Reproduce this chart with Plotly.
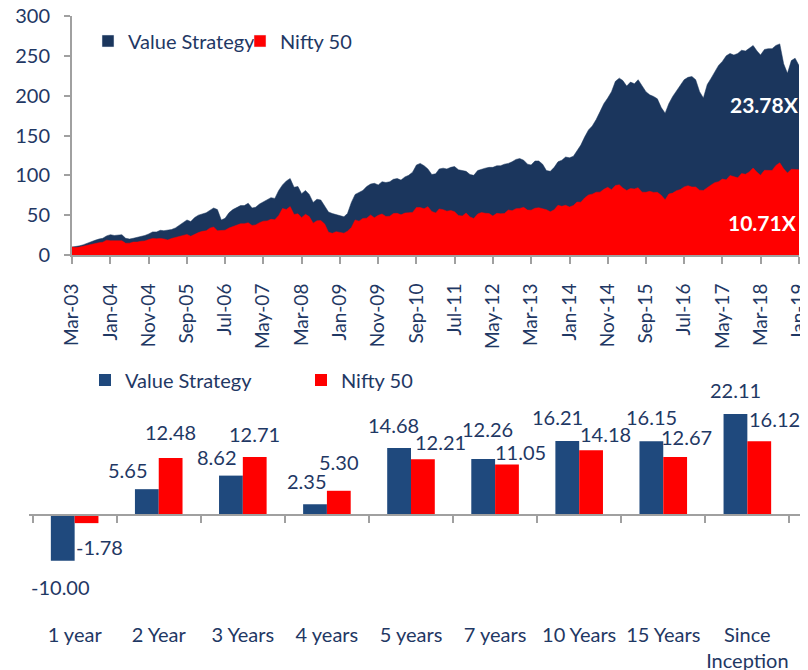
import pandas as pd
import plotly.graph_objects as go

# ---------------- data ----------------
months = pd.date_range("2003-03-01", "2019-01-01", freq="MS")

value_strategy = [
    10, 10.5, 11.5, 13, 15, 17, 18.5, 20, 21, 24,
    25.5, 24.5, 25, 25.5, 21, 20, 21, 22, 23.5, 24.5,
    26.5, 29, 29, 31, 30.5, 31, 32, 34, 37, 41,
    44, 42, 47, 50, 52, 53, 56, 59, 57, 44,
    46, 53, 57, 60, 62, 62, 65, 59, 60, 64,
    67, 70, 72, 71, 81, 88, 93, 96, 85, 86,
    77, 81, 76, 66, 70, 69, 62, 54, 52, 51,
    49, 48, 52, 66, 76, 79, 81, 86, 89, 90,
    88, 92, 91, 92, 95, 96, 94, 98, 100, 104,
    113, 115, 112, 108, 101, 102, 108, 109, 108, 110,
    111, 107, 106, 105, 101, 100, 106, 108, 109, 110,
    110, 112, 112, 114, 115, 117, 120, 121, 119, 114,
    113, 118, 118, 114, 106, 105, 110, 117, 119, 123,
    122, 124, 131, 138, 148, 157, 162, 170, 180, 190,
    197, 205, 218, 222, 219, 212, 217, 215, 220, 212,
    205, 201, 199, 196, 185, 178, 190, 199, 206, 212,
    220, 223, 224, 220, 205, 197, 214, 222, 230, 238,
    243, 250, 253, 251, 253, 257, 256, 259, 263, 256,
    251, 258, 259, 259, 263, 265, 240, 228, 244, 247,
    237.8,
]

nifty_50 = [
    10, 9.3, 10.0, 11.2, 11.7, 13.4, 14.0, 15.4, 16.0, 18.6,
    17.9, 17.8, 17.5, 17.8, 14.7, 14.9, 16.2, 16.2, 17.3, 17.7,
    19.4, 20.6, 20.4, 20.8, 20.2, 18.8, 20.7, 22.0, 22.9, 23.6,
    25.8, 23.5, 26.3, 28.1, 29.7, 30.4, 33.7, 35.2, 30.4, 31.0,
    31.1, 33.8, 35.5, 37.1, 39.2, 39.3, 40.4, 37.1, 37.8, 40.5,
    42.5, 42.8, 44.8, 44.2, 49.7, 58.4, 57.1, 60.8, 50.9, 51.7,
    46.9, 51.1, 48.2, 40.0, 42.9, 43.2, 38.8, 28.6, 27.3, 29.3,
    28.5, 27.4, 29.9, 34.4, 44.0, 42.5, 45.9, 46.2, 50.3, 46.7,
    49.8, 51.5, 48.3, 48.7, 52.0, 52.3, 50.4, 52.6, 53.1, 53.5,
    59.7, 59.6, 58.0, 60.7, 54.5, 52.8, 57.8, 56.9, 55.0, 55.9,
    54.3, 49.5, 48.9, 52.7, 47.8, 45.8, 51.5, 53.3, 52.4, 52.0,
    48.8, 52.3, 51.8, 52.1, 56.5, 55.6, 58.2, 58.5, 59.8, 56.4,
    56.3, 58.7, 59.3, 57.8, 56.9, 54.2, 56.8, 62.4, 61.1, 62.4,
    60.3, 62.1, 66.4, 66.3, 71.6, 75.4, 76.4, 78.8, 78.9, 82.4,
    85.0, 82.0, 87.2, 88.1, 84.1, 81.0, 83.5, 82.9, 84.5, 78.9,
    78.7, 79.9, 78.6, 78.7, 74.9, 69.2, 76.6, 77.7, 80.8, 82.1,
    85.5, 87.0, 85.3, 85.4, 81.4, 81.0, 84.8, 87.9, 90.8, 92.1,
    95.3, 94.3, 99.8, 98.2, 96.9, 102.3, 101.3, 104.3, 109.2, 103.9,
    100.1, 106.3, 106.3, 106.1, 112.4, 115.7, 108.2, 102.8, 107.7, 107.6,
    107.1,
]

x_tick_labels = ["Mar-03", "Jan-04", "Nov-04", "Sep-05", "Jul-06", "May-07", "Mar-08",
                 "Jan-09", "Nov-09", "Sep-10", "Jul-11", "May-12", "Mar-13", "Jan-14",
                 "Nov-14", "Sep-15", "Jul-16", "May-17", "Mar-18", "Jan-19"]
y_tick_values = [0, 50, 100, 150, 200, 250, 300]

multiple_labels = ["23.78X", "10.71X"]

periods = ["1 year", "2 Year", "3 Years", "4 years", "5 years", "7 years",
           "10 Years", "15 Years", "Since<br>Inception"]
value_returns = [-10.00, 5.65, 8.62, 2.35, 14.68, 12.26, 16.21, 16.15, 22.11]
nifty_returns = [-1.78, 12.48, 12.71, 5.30, 12.21, 11.05, 14.18, 12.67, 16.12]

# label offsets (px) : style only
value_dx = [-2, -19, -14, -8, -5, 5, -10, 0, 0]
value_dy = [26, 19, 19, 23, 23, 30, 24, 24, 24]
nifty_dx = [13, 0, 0, 0, 17, 13, 14, 11, 15]
nifty_dy = [24, 26, 23, 29, 17, 13, 16, 20, 22]

# ---------------- style ----------------
W, H = 808, 670
OFFSET = 8  # page margin around the figure in the screenshot
AREA_NAVY = "#1B365D"
BAR_NAVY = "#1F497D"
RED = "#FF0000"
TEXT = "#1F3864"
AXIS = "#A0A0A0"
FONT = "Lato"
FS = 20

def px_x(p):
    return (p - OFFSET) / W

def px_y(p):
    return 1 - (p - OFFSET) / H

fig = go.Figure()

# top: area chart (Nifty drawn on the overlay axis so it sits in front)
fig.add_trace(go.Scatter(x=months, y=value_strategy, mode="lines", fill="tozeroy",
                         line=dict(color=AREA_NAVY, width=0.5), fillcolor=AREA_NAVY,
                         name="Value Strategy", showlegend=False, xaxis="x", yaxis="y",
                         hoverinfo="skip"))
fig.add_trace(go.Scatter(x=months, y=nifty_50, mode="lines", fill="tozeroy",
                         line=dict(color=RED, width=0.5), fillcolor=RED,
                         name="Nifty 50", showlegend=False, xaxis="x", yaxis="y3",
                         hoverinfo="skip"))
# legend entries for the top chart
fig.add_trace(go.Bar(x=[None], y=[None], name="Value Strategy", marker_color=AREA_NAVY,
                     xaxis="x", yaxis="y", legend="legend"))
fig.add_trace(go.Bar(x=[None], y=[None], name="Nifty 50", marker_color=RED,
                     xaxis="x", yaxis="y", legend="legend"))

# bottom: grouped bars
fig.add_trace(go.Bar(x=periods, y=value_returns, name="Value Strategy", marker_color=BAR_NAVY,
                     marker_line_width=0, xaxis="x2", yaxis="y2", legend="legend2"))
fig.add_trace(go.Bar(x=periods, y=nifty_returns, name="Nifty 50", marker_color=RED,
                     marker_line_width=0, xaxis="x2", yaxis="y2", legend="legend2"))

# geometry of bottom chart (screen px)
b_top_px, b_bot_px, zero_px, unit_px = 400, 566, 515, 4.57
b_range = [-(b_bot_px - zero_px) / unit_px, (zero_px - b_top_px) / unit_px]

annotations = []
half_bar = 12.15
for i, cat in enumerate(periods):
    v = value_returns[i]
    annotations.append(dict(x=cat, y=v, xref="x2", yref="y2", text=f"{v:.2f}",
                            showarrow=False, xanchor="center", yanchor="middle",
                            xshift=-half_bar + value_dx[i],
                            yshift=value_dy[i] if v >= 0 else -value_dy[i],
                            font=dict(family=FONT, size=FS, color=TEXT)))
    n = nifty_returns[i]
    annotations.append(dict(x=cat, y=n, xref="x2", yref="y2", text=f"{n:.2f}",
                            showarrow=False, xanchor="center", yanchor="middle",
                            xshift=half_bar + nifty_dx[i],
                            yshift=nifty_dy[i] if n >= 0 else -nifty_dy[i],
                            font=dict(family=FONT, size=FS, color=TEXT)))

annotations.append(dict(x=px_x(764), y=px_y(104), xref="paper", yref="paper",
                        xanchor="center", yanchor="middle",
                        text=f"<b>{multiple_labels[0]}</b>", showarrow=False,
                        font=dict(family=FONT, size=21, color="white")))
annotations.append(dict(x=px_x(762), y=px_y(222), xref="paper", yref="paper",
                        xanchor="center", yanchor="middle",
                        text=f"<b>{multiple_labels[1]}</b>", showarrow=False,
                        font=dict(family=FONT, size=21, color="white")))

top_domain = [px_y(255), px_y(16)]

fig.update_layout(
    width=W, height=H,
    margin=dict(l=0, r=0, t=0, b=0, autoexpand=False),
    paper_bgcolor="white", plot_bgcolor="white",
    font=dict(family=FONT, size=FS, color=TEXT),
    barmode="group", bargap=0.434, bargroupgap=0,
    xaxis=dict(
        domain=[px_x(72), px_x(799)], anchor="y", type="date", automargin=False,
        range=[months[0], months[-1]],
        tickmode="array", tickvals=list(months[::10]), ticktext=x_tick_labels,
        tickangle=-90, ticks="outside", ticklen=7, tickwidth=1.5, tickcolor=AXIS,
        showline=True, linecolor=AXIS, linewidth=2, showgrid=False, zeroline=False,
        ticklabelstandoff=12, ticklabeloverflow="allow",
        tickfont=dict(family=FONT, size=19, color=TEXT),
    ),
    # tick labels, set away from the axis line by invisible long ticks
    yaxis=dict(
        domain=top_domain, anchor="x", range=[0, 300], automargin=False,
        tickmode="array", tickvals=y_tick_values,
        ticks="outside", ticklen=17, tickcolor="rgba(0,0,0,0)",
        showline=False, showgrid=False, zeroline=False, ticklabeloverflow="allow",
        tickfont=dict(family=FONT, size=FS, color=TEXT),
    ),
    # same scale: visible axis line and short ticks
    yaxis3=dict(
        domain=top_domain, anchor="x", overlaying="y", side="left", range=[0, 300],
        automargin=False, tickmode="array", tickvals=y_tick_values, showticklabels=False,
        ticks="outside", ticklen=6, tickwidth=1.5, tickcolor=AXIS,
        showline=True, linecolor=AXIS, linewidth=2, showgrid=False, zeroline=False,
    ),
    xaxis2=dict(
        domain=[px_x(29), px_x(802)], anchor="free", position=px_y(zero_px),
        type="category", tickson="boundaries", automargin=False, tickangle=0,
        ticks="outside", ticklen=7, tickwidth=1.5, tickcolor=AXIS,
        showline=True, linecolor=AXIS, linewidth=2, showgrid=False, zeroline=False,
        ticklabelstandoff=102, ticklabeloverflow="allow",
        tickfont=dict(family=FONT, size=FS, color=TEXT),
    ),
    yaxis2=dict(
        domain=[px_y(b_bot_px), px_y(b_top_px)], anchor="x2", range=b_range,
        visible=False, automargin=False,
    ),
    legend=dict(
        orientation="h", x=px_x(88), xanchor="left", y=px_y(41), yanchor="middle",
        entrywidth=107, entrywidthmode="pixels", bgcolor="rgba(0,0,0,0)",
        font=dict(family=FONT, size=FS, color=TEXT), itemclick=False,
    ),
    legend2=dict(
        orientation="h", x=px_x(85), xanchor="left", y=px_y(380), yanchor="middle",
        entrywidth=171, entrywidthmode="pixels", bgcolor="rgba(0,0,0,0)",
        font=dict(family=FONT, size=FS, color=TEXT), itemclick=False,
    ),
    annotations=annotations,
)

fig.write_html("out.html")
